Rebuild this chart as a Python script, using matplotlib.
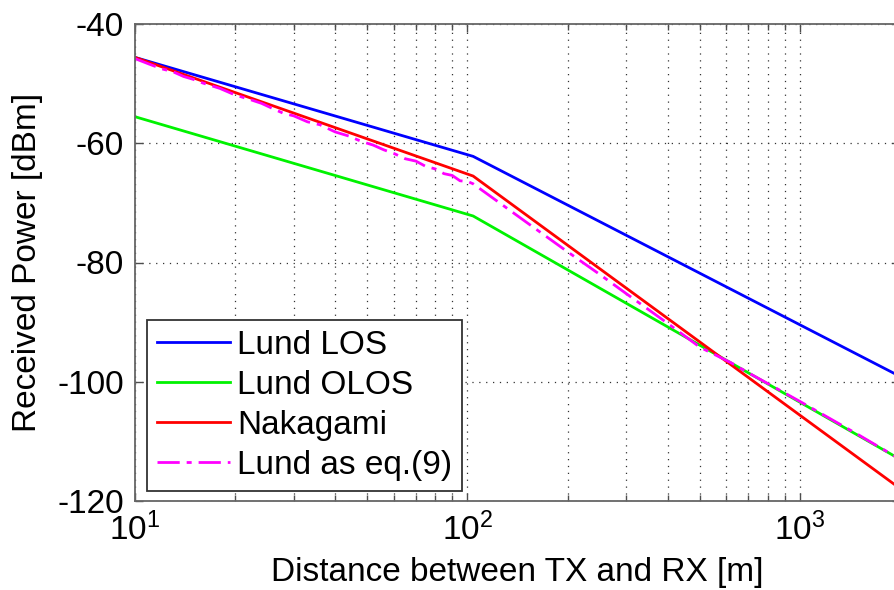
import numpy as np
import matplotlib
matplotlib.use('Agg')
import matplotlib.pyplot as plt
from matplotlib.ticker import LogLocator, FixedLocator, NullFormatter

plt.rcParams['font.family'] = ['Liberation Sans', 'DejaVu Sans']
plt.rcParams['mathtext.default'] = 'regular'
plt.rcParams['axes.unicode_minus'] = False

# curves: distance [m] -> received power [dBm]
los_d = [10, 104, 2000]
los_p = [-45.6, -62.2, -99.1]

olos_d = [10, 104, 2000]
olos_p = [-55.55, -72.2, -113.0]

naka_d = [10, 104, 2000]
naka_p = [-45.6, -65.5, -117.9]

eq9_d = [10, 11, 12, 13, 14, 15, 16, 18, 20, 22, 24, 26, 28, 30, 33, 36, 40, 44, 48,
         52, 56, 60, 65, 70, 75, 80, 85, 90, 95, 100, 104,
         120, 150, 200, 250, 300, 400, 500, 620, 700, 1000, 1500, 2000]
eq9_p = [-45.8, -46.7, -47.5, -48.0, -48.8, -49.3, -49.9, -50.8, -51.9, -52.6, -53.3,
         -54.2, -55.0, -55.4, -56.4, -56.9, -58.1, -58.8, -59.7, -60.3, -61.1, -61.7,
         -62.6, -63.0, -63.9, -64.3, -65.1, -65.4, -66.3, -66.4, -66.8,
         -69.3, -73.2, -78.2, -82.0, -85.2, -90.2, -94.2, -96.8, -98.5, -103.3, -108.9, -113.0]

labels = ['Lund LOS', 'Lund OLOS', 'Nakagami', 'Lund as eq.(9)']

fig = plt.figure(figsize=(8.94, 5.90), dpi=100)
# axes run a little past the right edge, the original picture is cropped there
ax = fig.add_axes([135/894, 1 - 501/590, 765/894, 477/590])

lw = 2.0
ax.plot(los_d, los_p, color=(0, 0, 1), lw=lw, label=labels[0])
ax.plot(olos_d, olos_p, color=(0, 0.95, 0), lw=lw, label=labels[1])
ax.plot(naka_d, naka_p, color=(1, 0, 0), lw=lw, label=labels[2])
ax.plot(eq9_d, eq9_p, color=(1, 0, 1), lw=lw, ls=(0, (8, 2.5, 1.8, 2.5)), label=labels[3])

ax.set_xscale('log')
ax.set_xlim(10, 2000)
ax.set_ylim(-120, -40)
ax.set_yticks([-120, -100, -80, -60, -40])
ax.xaxis.set_major_locator(FixedLocator([10, 100, 1000]))
ax.xaxis.set_minor_locator(LogLocator(base=10, subs=np.arange(2, 10), numticks=20))
ax.xaxis.set_minor_formatter(NullFormatter())

grid_kw = dict(color='0.2', lw=0.9, ls=(0, (1, 4.5)))
ax.grid(True, which='major', axis='both', **grid_kw)
ax.grid(True, which='minor', axis='x', **grid_kw)

ax.tick_params(which='both', direction='in', top=True, right=True, labelsize=24,
               color='0.3', width=1)
ax.tick_params(which='major', length=6, pad=8)
ax.tick_params(which='minor', length=4)
for s in ax.spines.values():
    s.set_color('0.4')
    s.set_linewidth(1.3)

ax.set_xlabel('Distance between TX and RX [m]', fontsize=24)
ax.set_ylabel('Received Power [dBm]', fontsize=24)
ax.xaxis.set_label_coords(0.5, -0.118)
ax.yaxis.set_label_coords(-0.12, 0.5)

leg = ax.legend(loc='lower left', bbox_to_anchor=(0.0157, 0.021), borderaxespad=0,
                fontsize=24, handlelength=2.2, handletextpad=0.2, labelspacing=0.27,
                borderpad=0.3, fancybox=False, framealpha=1, edgecolor='0.2')
leg.get_frame().set_linewidth(1.3)

fig.savefig('out.png', dpi=100)
